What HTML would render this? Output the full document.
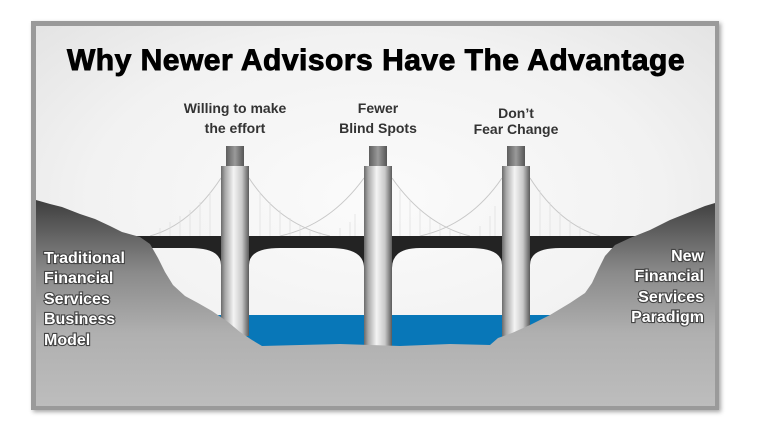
<!DOCTYPE html>
<html><head><style>
html,body{margin:0;padding:0;background:#fff;}
svg{display:block;}
text{font-family:"Liberation Sans",Arial,sans-serif;font-weight:bold;}
</style></head><body>
<svg width="768" height="433" viewBox="0 0 768 433" xmlns="http://www.w3.org/2000/svg">
<defs>
<radialGradient id="bg" cx="0.5" cy="0.45" r="0.7">
<stop offset="0" stop-color="#fbfbfb"/><stop offset="0.6" stop-color="#f2f2f2"/><stop offset="1" stop-color="#e2e2e2"/>
</radialGradient>
<linearGradient id="hill" x1="0" y1="0" x2="0" y2="1">
<stop offset="0" stop-color="#3e3e3e"/><stop offset="0.35" stop-color="#8a8a8a"/><stop offset="0.65" stop-color="#b0b0b0"/><stop offset="1" stop-color="#bdbdbd"/>
</linearGradient>
<linearGradient id="pil" x1="0" y1="0" x2="1" y2="0">
<stop offset="0" stop-color="#6a6a6a"/><stop offset="0.15" stop-color="#a8a8a8"/><stop offset="0.45" stop-color="#f4f4f4"/><stop offset="0.75" stop-color="#c8c8c8"/><stop offset="1" stop-color="#5a5a5a"/>
</linearGradient>
<linearGradient id="cap" x1="0" y1="0" x2="1" y2="0">
<stop offset="0" stop-color="#5e5e5e"/><stop offset="0.5" stop-color="#9a9a9a"/><stop offset="1" stop-color="#555"/>
</linearGradient>
<filter id="sh" x="-5%" y="-5%" width="110%" height="110%"><feDropShadow dx="2" dy="2" stdDeviation="2" flood-color="#000" flood-opacity="0.35"/></filter>
</defs>
<rect x="31" y="21" width="688" height="389" fill="#9a9a9a" filter="url(#sh)"/>
<rect x="36" y="26" width="679" height="380" fill="url(#bg)"/>
<text x="376" y="70" font-size="30" text-anchor="middle" fill="#000" letter-spacing="0.5" style="font-weight:900" stroke="#000" stroke-width="0.9">Why Newer Advisors Have The Advantage</text>
<g font-size="14" fill="#333" text-anchor="middle">
<text x="235" y="113">Willing to make</text><text x="235" y="133">the effort</text>
<text x="378" y="113">Fewer</text><text x="378" y="133">Blind Spots</text>
<text x="516" y="118">Don’t</text><text x="516" y="134">Fear Change</text>
</g>
<rect x="200" y="315" width="370" height="35" fill="#0877b8"/>
<g stroke="#c8c8c8" stroke-width="1" fill="none">
<path d="M221,178 Q190,225 150,236"/><path d="M249,178 Q280,225 330,236"/>
<path d="M364,178 Q330,225 280,236"/><path d="M392,178 Q425,225 470,236"/>
<path d="M502,178 Q470,225 420,236"/><path d="M530,178 Q560,225 600,236"/>
</g>
<g stroke="#ddd" stroke-width="0.7">
<path d="M160,236V228M170,236V222M180,236V216M190,236V210M200,236V202M210,236V192M260,236V192M270,236V202M280,236V210M290,236V218M300,236V226M310,236V230M320,236V232M340,236V228M350,236V222M355,236V214M400,236V190M410,236V200M420,236V210M430,236V218M440,236V224M450,236V230M460,236V232M480,236V226M490,236V216M495,236V206M540,236V190M550,236V202M560,236V212M570,236V220M580,236V226M590,236V232"/>
</g>
<path d="M125,236 H640 V248 H560 Q530,248 530,265 L502,265 Q502,248 470,248 H420 Q392,248 392,268 L364,268 Q364,248 330,248 H280 Q249,248 249,265 L221,265 Q221,248 190,248 H125 Z" fill="#232323"/>
<rect x="226" y="146" width="18" height="20" fill="url(#cap)"/>
<rect x="221" y="166" width="28" height="170" fill="url(#pil)"/>
<rect x="369" y="146" width="18" height="20" fill="url(#cap)"/>
<rect x="364" y="166" width="28" height="180" fill="url(#pil)"/>
<rect x="507" y="146" width="18" height="20" fill="url(#cap)"/>
<rect x="502" y="166" width="28" height="172" fill="url(#pil)"/>
<path d="M36,200 L50,204 L62,207 L80,214 L95,219 L110,226 L122,232 L140,237 L150,244 L158,258 L165,272 L173,285 L185,296 L198,303 L212,311 L228,322 L240,332 L252,340 L262,346 L300,345 L340,344 L400,346 L450,344 L490,345 L498,338 L512,333 L530,325 L550,315 L570,303 L585,293 L592,283 L598,270 L605,256 L615,245 L630,238 L650,230 L670,220 L690,212 L705,206 L715,203 L715,406 L36,406 Z" fill="url(#hill)"/>
<g font-size="16" fill="#fff" stroke="#444" stroke-width="2.2" paint-order="stroke" style="font-weight:900">
<text x="44" y="263">Traditional</text><text x="44" y="283">Financial</text><text x="44" y="304">Services</text><text x="44" y="324">Business</text><text x="44" y="345">Model</text>
<g text-anchor="end"><text x="704" y="261">New</text><text x="704" y="281">Financial</text><text x="704" y="302">Services</text><text x="704" y="322">Paradigm</text></g>
</g>
</svg>
</body></html>
